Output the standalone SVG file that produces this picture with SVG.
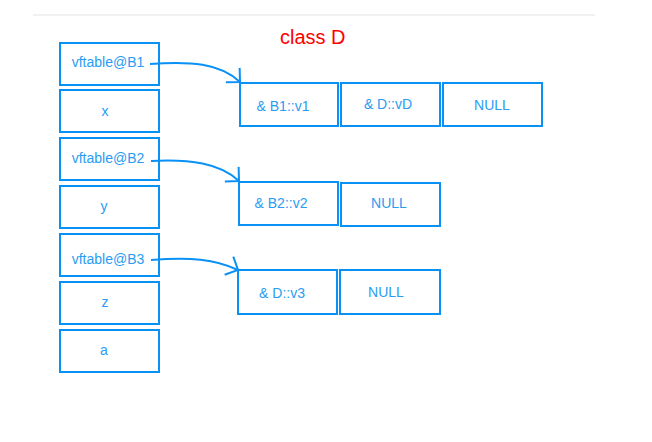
<svg xmlns="http://www.w3.org/2000/svg" width="652" height="442" viewBox="0 0 652 442">
  <defs>
    <style>
      .box { fill: #ffffff; stroke: #0a91f5; stroke-width: 2; }
      .t { font-family: "Liberation Sans", Arial, sans-serif; font-size: 14px; fill: #2a9cf2; text-anchor: middle; }
      .title { font-family: "Liberation Sans", Arial, sans-serif; font-size: 20px; fill: #ff0000; }
      .conn { fill: none; stroke: #0a91f5; stroke-width: 2; }
    </style>
    <marker id="arr" markerUnits="userSpaceOnUse" viewBox="-12 -12 14 24" refX="0" refY="0" markerWidth="14" markerHeight="24" orient="auto">
      <path d="M-10,-10 L0,0 L-10,10" fill="none" stroke="#0a91f5" stroke-width="2"/>
    </marker>
  </defs>
  <rect width="652" height="442" fill="#ffffff"/>
  <line x1="33" y1="15" x2="595" y2="15" stroke="#ececec" stroke-width="1.5"/>
  <text class="title" x="280" y="44">class D</text>

  <g id="obj-vftable-B1"><rect class="box" x="60" y="43" width="99" height="42"/><text class="t" x="108" y="67">vftable@B1</text></g>
  <g id="obj-x"><rect class="box" x="60" y="90" width="99" height="42"/><text class="t" x="105" y="116">x</text></g>
  <g id="obj-vftable-B2"><rect class="box" x="60" y="138" width="99" height="42"/><text class="t" x="108" y="163">vftable@B2</text></g>
  <g id="obj-y"><rect class="box" x="60" y="186" width="99" height="42"/><text class="t" x="104" y="211">y</text></g>
  <g id="obj-vftable-B3"><rect class="box" x="60" y="234" width="99" height="42"/><text class="t" x="108" y="264">vftable@B3</text></g>
  <g id="obj-z"><rect class="box" x="60" y="282" width="99" height="42"/><text class="t" x="105" y="307">z</text></g>
  <g id="obj-a"><rect class="box" x="60" y="330" width="99" height="42"/><text class="t" x="104" y="355">a</text></g>

  <g id="vt1-B1v1"><rect class="box" x="240" y="83" width="98" height="43"/><text class="t" x="283" y="111">&amp; B1::v1</text></g>
  <g id="vt1-DvD"><rect class="box" x="341" y="83" width="99" height="43"/><text class="t" x="388" y="109">&amp; D::vD</text></g>
  <g id="vt1-NULL"><rect class="box" x="443" y="83" width="99" height="43"/><text class="t" x="492" y="110">NULL</text></g>

  <g id="vt2-B2v2"><rect class="box" x="239" y="182" width="99" height="43"/><text class="t" x="281" y="208">&amp; B2::v2</text></g>
  <g id="vt2-NULL"><rect class="box" x="341" y="183" width="99" height="43"/><text class="t" x="389" y="208">NULL</text></g>

  <g id="vt3-Dv3"><rect class="box" x="238" y="270" width="99" height="44"/><text class="t" x="282" y="298">&amp; D::v3</text></g>
  <g id="vt3-NULL"><rect class="box" x="340" y="270" width="100" height="44"/><text class="t" x="386" y="297">NULL</text></g>

  <g id="connectors">
    <path class="conn" d="M150,64 C190,61 220,63 240,82" marker-end="url(#arr)"/>
    <path class="conn" d="M151,161 C190,159 220,163 239,181" marker-end="url(#arr)"/>
    <path class="conn" d="M151,260 C190,257 215,259 238,270" marker-end="url(#arr)"/>
  </g>
</svg>
